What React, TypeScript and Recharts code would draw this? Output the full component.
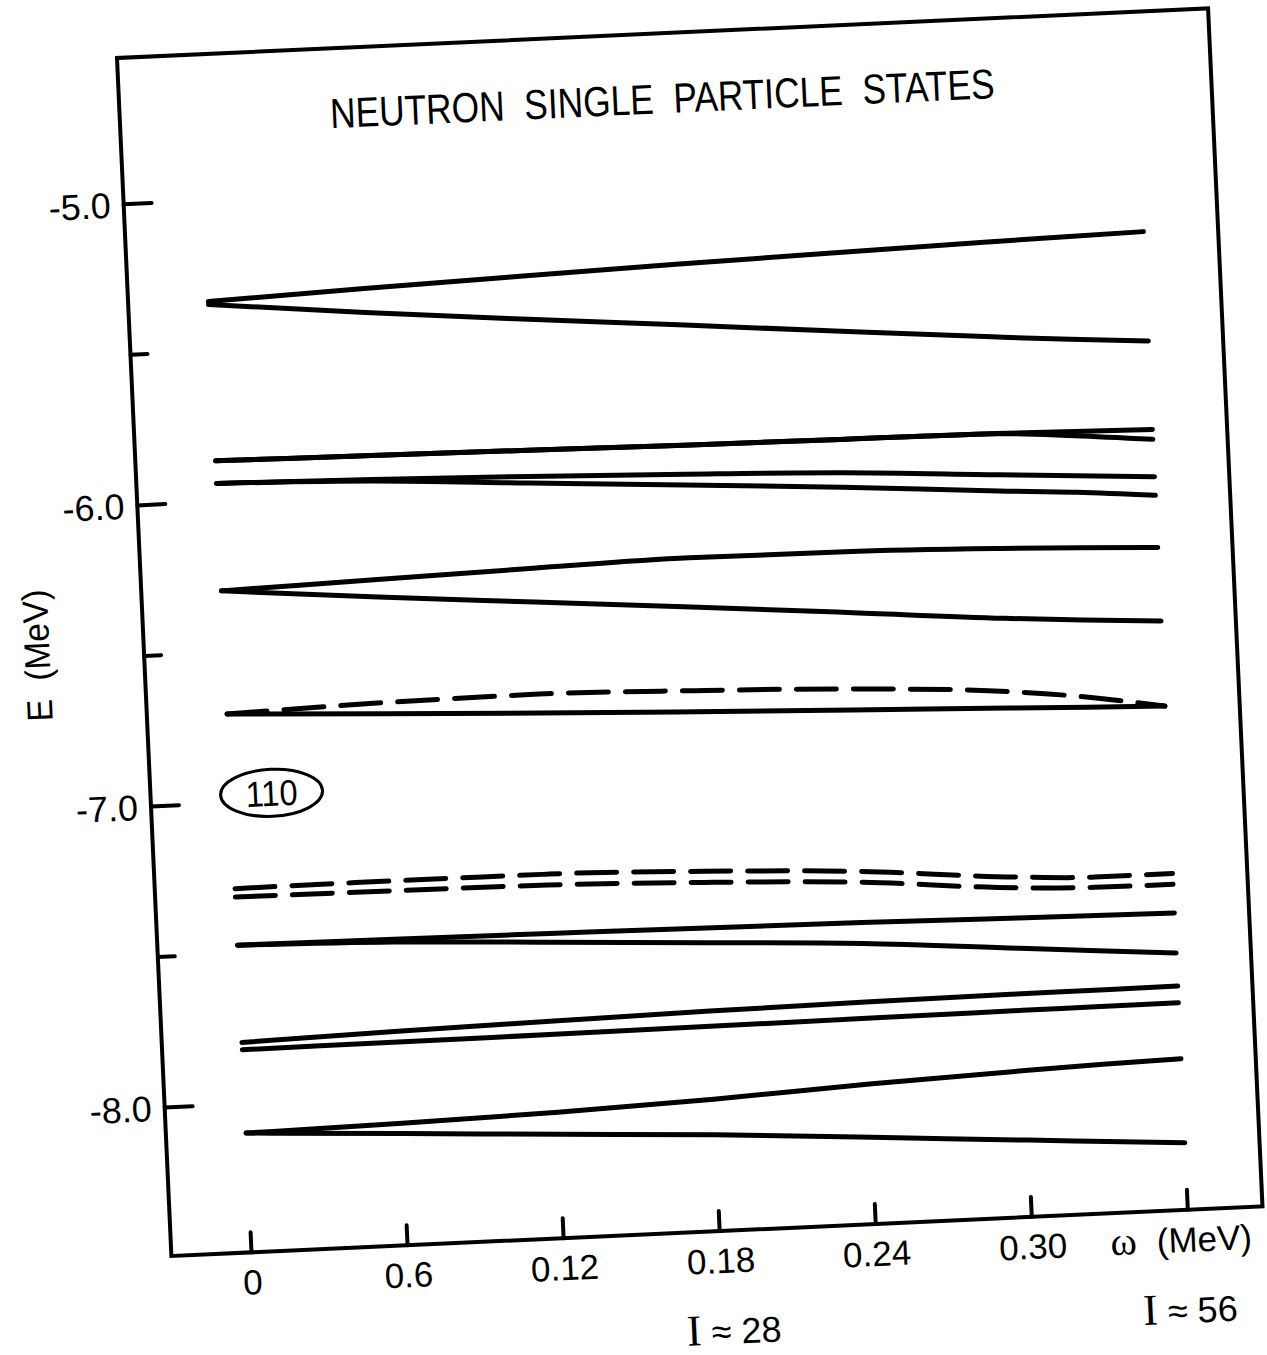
import React from 'react';
import { LineChart, Line, XAxis, YAxis, ReferenceArea, ReferenceDot } from 'recharts';

// Rotational frequency ω (MeV) at which every level is sampled
const OMEGA = [0, 0.06, 0.12, 0.18, 0.24, 0.3, 0.33, 0.36];

// Neutron single-particle energies E (MeV)
const G1_UP = [-5.335, -5.315, -5.298, -5.282, -5.268, -5.255, -5.249, -5.244];
const G1_DN = [-5.345, -5.395, -5.44, -5.483, -5.527, -5.57, -5.59, -5.607];
const G2_A1 = [-5.864, -5.87, -5.876, -5.883, -5.887, -5.891, -5.896, -5.901];
const G2_A2 = [-5.864, -5.87, -5.876, -5.883, -5.887, -5.892, -5.91, -5.934];
const G2_B1 = [-5.939, -5.95, -5.963, -5.979, -5.998, -6.028, -6.043, -6.058];
const G2_B2 = [-5.939, -5.955, -5.985, -6.015, -6.046, -6.082, -6.098, -6.12];
const G3_UP = [-6.296, -6.282, -6.268, -6.257, -6.26, -6.273, -6.282, -6.293];
const G3_DN = [-6.296, -6.34, -6.38, -6.42, -6.462, -6.505, -6.522, -6.537];
const G4_SOLID = [-6.705, -6.728, -6.749, -6.768, -6.786, -6.803, -6.812, -6.82];
const G4_DASH = [-6.705, -6.691, -6.686, -6.698, -6.716, -6.748, -6.778, -6.82];
const G5_DASH_UP = [-7.285, -7.283, -7.284, -7.298, -7.322, -7.364, -7.376, -7.376];
const G5_DASH_DN = [-7.313, -7.316, -7.32, -7.335, -7.358, -7.4, -7.41, -7.412];
const G6_UP = [-7.473, -7.477, -7.481, -7.486, -7.492, -7.5, -7.504, -7.507];
const G6_DN = [-7.473, -7.486, -7.51, -7.535, -7.561, -7.601, -7.621, -7.64];
const G7_UP = [-7.796, -7.782, -7.772, -7.762, -7.756, -7.752, -7.751, -7.75];
const G7_DN = [-7.82, -7.818, -7.816, -7.813, -7.81, -7.807, -7.806, -7.805];
const G8_UP = [-8.097, -8.088, -8.075, -8.055, -8.028, -8.007, -7.998, -7.991];
const G8_DN = [-8.097, -8.122, -8.148, -8.173, -8.205, -8.238, -8.254, -8.27];

const SERIES = [
  { key: 'g1Up', values: G1_UP, dashed: false },
  { key: 'g1Dn', values: G1_DN, dashed: false },
  { key: 'g2A1', values: G2_A1, dashed: false },
  { key: 'g2A2', values: G2_A2, dashed: false },
  { key: 'g2B1', values: G2_B1, dashed: false },
  { key: 'g2B2', values: G2_B2, dashed: false },
  { key: 'g3Up', values: G3_UP, dashed: false },
  { key: 'g3Dn', values: G3_DN, dashed: false },
  { key: 'g4Solid', values: G4_SOLID, dashed: false },
  { key: 'g4Dash', values: G4_DASH, dashed: true },
  { key: 'g5DashUp', values: G5_DASH_UP, dashed: true },
  { key: 'g5DashDn', values: G5_DASH_DN, dashed: true },
  { key: 'g6Up', values: G6_UP, dashed: false },
  { key: 'g6Dn', values: G6_DN, dashed: false },
  { key: 'g7Up', values: G7_UP, dashed: false },
  { key: 'g7Dn', values: G7_DN, dashed: false },
  { key: 'g8Up', values: G8_UP, dashed: false },
  { key: 'g8Dn', values: G8_DN, dashed: false },
];

// Axes
const X_MIN = -0.0308;
const X_MAX = 0.3887;
const Y_MIN = -8.493;
const Y_MAX = -4.514;
const X_TICKS = [0, 0.06, 0.12, 0.18, 0.24, 0.3, 0.36];
const X_TICK_LABELS = ['0', '0.6', '0.12', '0.18', '0.24', '0.30', '(MeV)'];
const X_SUB_LABELS = ['', '', '', '28', '', '', '56'];
const Y_TICKS = [-8.0, -7.5, -7.0, -6.5, -6.0, -5.5, -5.0];
const Y_TICK_LABELS = ['-8.0', '', '-7.0', '', '-6.0', '', '-5.0'];

const TITLE = 'NEUTRON  SINGLE  PARTICLE  STATES';
const Y_LABEL = 'E  (MeV)';
const BAND_LABEL = { w: 0.0157, e: -6.973, text: '110' };

const rows = OMEGA.map((w, i) => {
  const r: Record<string, number> = { w };
  SERIES.forEach((s) => {
    r[s.key] = s.values[i];
  });
  return r;
});

const SANS = "'Liberation Sans', Arial, Helvetica, sans-serif";
const SERIF = "'Liberation Serif', 'Times New Roman', serif";

const XTick = (props: any) => {
  const { x, y, payload } = props;
  const i = X_TICKS.indexOf(payload.value);
  const label = X_TICK_LABELS[i];
  const sub = X_SUB_LABELS[i];
  const isLast = i === X_TICKS.length - 1;
  return (
    <g>
      <line x1={x} x2={x} y1={y} y2={y - 20} stroke="#000" strokeWidth={4} strokeLinecap="round" />
      <text
        x={isLast ? x - 8 : x}
        y={y + 42}
        textAnchor="middle"
        fontSize={35}
        fontFamily={SANS}
        fill="#000"
        style={{ whiteSpace: 'pre' }}
      >
        {isLast ? <tspan fontFamily={SERIF} fontSize={40}>{'ω  '}</tspan> : null}
        {label}
      </text>
      {sub ? (
        <text
          x={i === 3 ? x + 10 : x - 2}
          y={y + 113}
          textAnchor="middle"
          fontSize={36}
          fontFamily={SANS}
          fill="#000"
          style={{ whiteSpace: 'pre' }}
        >
          <tspan fontFamily={SERIF} fontSize={44}>I</tspan>
          <tspan>{' ≈ ' + sub}</tspan>
        </text>
      ) : null}
    </g>
  );
};

const YTick = (props: any) => {
  const { x, y, payload } = props;
  const i = Y_TICKS.indexOf(payload.value);
  const label = Y_TICK_LABELS[i];
  const len = label ? 28 : 17;
  return (
    <g>
      <line x1={x} x2={x + len} y1={y} y2={y} stroke="#000" strokeWidth={4} strokeLinecap="round" />
      {label ? (
        <text x={x - 13} y={y + 13} textAnchor="end" fontSize={36} fontFamily={SANS} fill="#000">
          {label}
        </text>
      ) : null}
    </g>
  );
};

const BandShape = (props: any) => {
  const { cx, cy } = props;
  return (
    <g>
      <ellipse cx={cx} cy={cy} rx={51} ry={23.5} fill="#fff" stroke="#000" strokeWidth={3} />
      <text
        x={cx}
        y={cy + 13}
        textAnchor="middle"
        fontSize={36}
        fontFamily={SANS}
        fill="#000"
        textLength={52}
        lengthAdjust="spacingAndGlyphs"
      >
        {BAND_LABEL.text}
      </text>
    </g>
  );
};

const W = 1267;
const H = 1350;
const M = { top: 20, right: 14.8, bottom: 129.8, left: 159 };

export default function App() {
  return (
    <div
      style={{
        position: 'fixed',
        left: 0,
        top: 0,
        width: '100vw',
        height: '100vh',
        overflow: 'hidden',
        background: '#fff',
      }}
    >
      <div
        style={{
          position: 'absolute',
          left: -42.7,
          top: 38.4,
          width: W,
          height: H,
          transformOrigin: '160px 20px',
          transform: 'rotate(-2.6deg)',
        }}
      >
        <LineChart width={W} height={H} data={rows} margin={M}>
          <XAxis
            dataKey="w"
            type="number"
            domain={[X_MIN, X_MAX]}
            allowDataOverflow
            ticks={X_TICKS}
            interval={0}
            height={1}
            tickSize={0}
            tickMargin={0}
            axisLine={false}
            tickLine={false}
            tick={<XTick />}
          />
          <YAxis
            type="number"
            domain={[Y_MIN, Y_MAX]}
            allowDataOverflow
            ticks={Y_TICKS}
            interval={0}
            width={1}
            tickSize={0}
            tickMargin={0}
            axisLine={false}
            tickLine={false}
            tick={<YTick />}
          />
          <ReferenceArea
            x1={X_MIN}
            x2={X_MAX}
            y1={Y_MIN}
            y2={Y_MAX}
            fill="none"
            fillOpacity={0}
            stroke="#000"
            strokeWidth={4}
            ifOverflow="visible"
          />
          {SERIES.map((s) => (
            <Line
              key={s.key}
              dataKey={s.key}
              type="monotone"
              stroke="#000"
              strokeWidth={5}
              strokeLinecap="round"
              strokeDasharray={s.dashed ? '40 17' : undefined}
              dot={false}
              activeDot={false}
              isAnimationActive={false}
            />
          ))}
          <ReferenceDot x={BAND_LABEL.w} y={BAND_LABEL.e} r={0} shape={<BandShape />} ifOverflow="visible" />
        </LineChart>
        <svg
          width={W}
          height={H}
          style={{ position: 'absolute', left: 0, top: 0, pointerEvents: 'none' }}
        >
          <text
            x={702.8}
            y={99.9}
            textAnchor="middle"
            fontSize={42}
            fontFamily={SANS}
            fill="#000"
            textLength={665}
            lengthAdjust="spacingAndGlyphs"
            style={{ whiteSpace: 'pre' }}
          >
            {TITLE}
          </text>
          <text
            x={52.7}
            y={613.4}
            transform="rotate(-90 52.7 613.4)"
            textAnchor="middle"
            dy="0.36em"
            fontSize={36}
            fontFamily={SANS}
            fill="#000"
            textLength={132}
            lengthAdjust="spacingAndGlyphs"
            style={{ whiteSpace: 'pre' }}
          >
            {Y_LABEL}
          </text>
        </svg>
      </div>
    </div>
  );
}
